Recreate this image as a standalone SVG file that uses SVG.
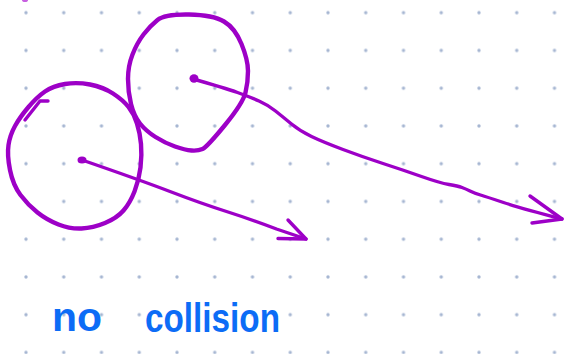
<svg xmlns="http://www.w3.org/2000/svg" width="571" height="354" viewBox="0 0 571 354">
<defs>
<pattern id="dots" patternUnits="userSpaceOnUse" x="7.125" y="-6.175" width="37.75" height="37.75">
<circle cx="18.875" cy="18.875" r="1.7" fill="#a6b6d2"/>
</pattern>
<style>
.ink{fill:none;stroke:#9d00c7;stroke-width:4.4;stroke-linecap:round;stroke-linejoin:round}
.thin{fill:none;stroke:#9d00c7;stroke-width:3.4;stroke-linecap:round;stroke-linejoin:round}
.dot{fill:#9d00c7}
.hand{font-family:"Liberation Sans",Arial,sans-serif;font-weight:bold;fill:#0c6cf6}
</style>
</defs>
<rect width="571" height="354" fill="#ffffff"/>
<rect width="571" height="354" fill="url(#dots)"/>
<ellipse cx="25" cy="0" rx="3" ry="2" fill="#c75fe0"/>
<g id="circle1">
<path class="ink" d="M65,84 Q77,82 90,84.5 Q103,87 113,93.5 Q123,100 128.5,107 Q134,114 137,123.5 Q140,133 141,144 Q142,155 140.5,167.5 Q139,180 134.5,191.5 Q130,203 123.5,210.5 Q117,218 105,223 Q93,228 81.5,228.5 Q70,229 58.5,224.5 Q47,220 37.5,212.5 Q28,205 20.5,195 Q13,185 10,170 Q7,155 8.5,145 Q10,135 15,126 Q20,117 28.5,107 Q37,97 45,91.5 Q53,86 65,84 Z"/>
<path class="thin" d="M25,120 L40,101 L48,101"/>
<ellipse class="dot" cx="82" cy="160" rx="4.5" ry="3.6"/>
</g>
<g id="circle2">
<path class="ink" d="M157.5,20 Q165,14 189,14.5 Q213,15 224,21.5 Q235,28 241.5,44 Q248,60 248,71 Q248,82 245.5,92.5 Q243,103 225,125 Q207,147 202.5,149 Q198,151 191.5,150.5 Q185,150 175,146.5 Q165,143 155.5,137 Q146,131 140,123.5 Q134,116 131,104 Q128,92 128,79 Q128,66 132.5,54.5 Q137,43 143.5,34.5 Q150,26 157.5,20 Z"/>
<ellipse class="dot" cx="194" cy="78.5" rx="4.5" ry="4.2"/>
</g>
<g id="connectors">
<path class="thin" d="M82,160 Q140,180 170,191.5 Q200,203 226.5,211.5 Q253,220 276.5,229 L306,239"/>
<path class="thin" d="M288,220 L306,239 M278,238.5 L306,239"/>
<path class="thin" d="M193,79 Q225,88 237.5,92.5 Q250,97 259,101 Q268,105 275.5,111 Q283,117 291.5,124 Q300,131 311.5,136.5 Q323,142 343,149.5 Q363,157 383,163.5 Q403,170 421.5,176.5 Q440,183 449,184.5 Q458,186 462,187.5 Q466,189 470,191 Q474,193 480.5,195 Q487,197 503.5,202.5 Q520,208 562,219"/>
<path class="thin" d="M530,196 L562,219 M532,223 L562,219"/>
</g>
<g id="label">
<text class="hand" x="52" y="331" font-size="40" textLength="50" lengthAdjust="spacingAndGlyphs">no</text>
<text class="hand" x="145" y="332" font-size="40" textLength="135" lengthAdjust="spacingAndGlyphs">collision</text>
</g>
</svg>
